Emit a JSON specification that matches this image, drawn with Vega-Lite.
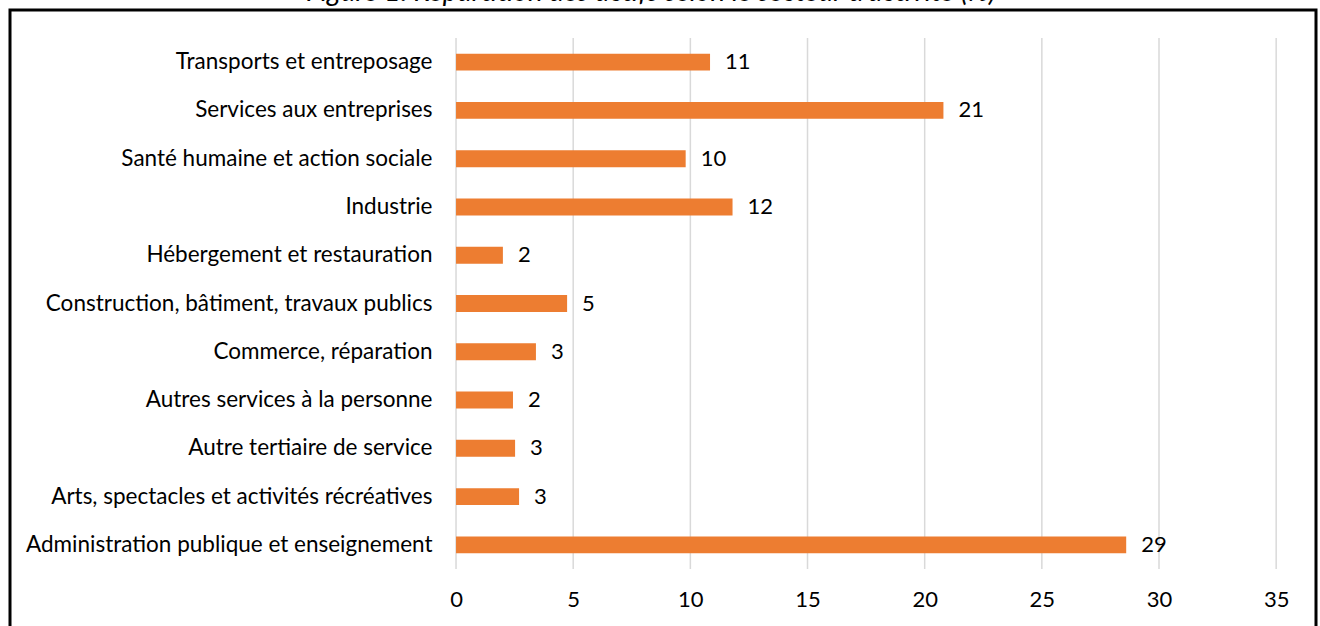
{
  "$schema": "https://vega.github.io/schema/vega-lite/v6.json",
  "autosize": {"type": "none"},
  "padding": {"left": 10, "top": 10, "right": 4, "bottom": 0},
  "width": 1306,
  "height": 630,
  "background": "white",
  "title": {
    "text": "Figure 1. Répartition des actifs selon le secteur d'activité (%)",
    "font": "Lato",
    "fontSize": 28,
    "fontStyle": "italic",
    "fontWeight": "normal",
    "color": "#000000",
    "anchor": "middle",
    "frame": "group",
    "baseline": "alphabetic",
    "dx": -12,
    "offset": -19
  },
  "config": {
    "view": {"stroke": "#000000", "strokeWidth": 3},
    "font": "Lato"
  },
  "datasets": {
    "secteurs": [
      {"secteur": "Transports et entreposage", "valeur": 10.84},
      {"secteur": "Services aux entreprises", "valeur": 20.8},
      {"secteur": "Santé humaine et action sociale", "valeur": 9.8},
      {"secteur": "Industrie ", "valeur": 11.8},
      {"secteur": "Hébergement et restauration", "valeur": 2.0},
      {"secteur": "Construction, bâtiment, travaux publics", "valeur": 4.74},
      {"secteur": "Commerce, réparation", "valeur": 3.41},
      {"secteur": "Autres services à la personne", "valeur": 2.43},
      {"secteur": "Autre tertiaire de service", "valeur": 2.52},
      {"secteur": "Arts, spectacles et activités récréatives", "valeur": 2.69},
      {"secteur": "Administration publique et enseignement", "valeur": 28.6}
    ],
    "graduations": [
      {"tick": 0}, {"tick": 5}, {"tick": 10}, {"tick": 15},
      {"tick": 20}, {"tick": 25}, {"tick": 30}, {"tick": 35}
    ]
  },
  "layer": [
    {
      "data": {"name": "graduations"},
      "mark": {"type": "rule", "color": "#D9D9D9", "strokeWidth": 1.5},
      "encoding": {
        "x": {
          "field": "tick",
          "type": "quantitative",
          "scale": {"domain": [-19.035, 36.7], "nice": false, "zero": false},
          "axis": {
            "title": null,
            "values": [0, 5, 10, 15, 20, 25, 30, 35],
            "domain": false,
            "ticks": false,
            "tickSize": 0,
            "labelPadding": -51,
            "labelFont": "Lato",
            "labelFontSize": 22,
            "labelColor": "#000000",
            "labelOverlap": false,
            "grid": false
          }
        },
        "y": {"datum": 0, "type": "quantitative", "scale": {"domain": [0, 1], "range": [28, 559], "nice": false, "zero": false}, "axis": null},
        "y2": {"datum": 1}
      }
    },
    {
      "data": {"name": "secteurs"},
      "encoding": {
        "y": {
          "field": "secteur",
          "type": "nominal",
          "sort": null,
          "scale": {"range": [28, 559], "paddingInner": 0.65, "paddingOuter": 0.325},
          "axis": {
            "title": null,
            "offset": -446,
            "domain": false,
            "ticks": false,
            "tickSize": 0,
            "labelPadding": 24,
            "labelFont": "Lato",
            "labelFontSize": 22.5,
            "labelColor": "#000000",
            "labelLimit": 600,
            "grid": false
          }
        },
        "x": {"field": "valeur", "type": "quantitative"}
      },
      "layer": [
        {"mark": {"type": "bar", "color": "#ED7D31"}},
        {
          "mark": {"type": "text", "align": "left", "baseline": "middle", "dx": 15, "font": "Lato", "fontSize": 22, "color": "#000000"},
          "encoding": {
            "text": {"field": "valeur", "type": "quantitative", "format": ".0f"}
          }
        }
      ]
    }
  ],
  "resolve": {"scale": {"y": "independent"}}
}
